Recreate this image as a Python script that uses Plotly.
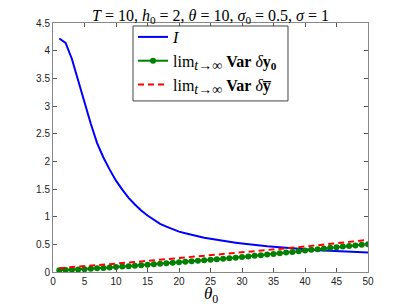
import plotly.graph_objects as go

theta0 = list(range(1, 51))

I_vals = [4.22, 4.14, 3.85, 3.45, 3.05, 2.68, 2.33, 2.07, 1.85, 1.65,
          1.49, 1.34, 1.22, 1.11, 1.02, 0.94, 0.87, 0.82, 0.77, 0.73,
          0.70, 0.67, 0.645, 0.62, 0.60, 0.58, 0.56, 0.545, 0.53, 0.515,
          0.50, 0.49, 0.475, 0.465, 0.455, 0.445, 0.435, 0.425, 0.415, 0.41,
          0.40, 0.395, 0.39, 0.385, 0.378, 0.372, 0.366, 0.361, 0.356, 0.352]

var_y0 = [0.03, 0.035, 0.04, 0.045, 0.05, 0.058, 0.066, 0.074, 0.082, 0.09,
          0.098, 0.106, 0.114, 0.122, 0.13, 0.139, 0.148, 0.157, 0.166, 0.175,
          0.184, 0.193, 0.202, 0.211, 0.22, 0.229, 0.239, 0.249, 0.259, 0.27,
          0.281, 0.292, 0.303, 0.315, 0.327, 0.339, 0.351, 0.363, 0.376, 0.389,
          0.401, 0.413, 0.425, 0.437, 0.449, 0.46, 0.471, 0.481, 0.491, 0.50]

var_ybar = [0.07, 0.078, 0.086, 0.093, 0.10, 0.11, 0.12, 0.13, 0.14, 0.15,
            0.16, 0.17, 0.18, 0.19, 0.20, 0.21, 0.22, 0.23, 0.24, 0.25,
            0.26, 0.27, 0.28, 0.29, 0.30, 0.31, 0.32, 0.33, 0.34, 0.35,
            0.362, 0.374, 0.386, 0.398, 0.41, 0.42, 0.43, 0.44, 0.45, 0.46,
            0.472, 0.484, 0.496, 0.508, 0.52, 0.532, 0.544, 0.556, 0.568, 0.58]

x_ticks = list(range(0, 51, 5))
y_ticks = [0, 0.5, 1, 1.5, 2, 2.5, 3, 3.5, 4, 4.5]

serif = "Liberation Serif, DejaVu Serif, serif"
sans = "Liberation Sans, Arial, sans-serif"

lim = "lim<sub><span style='font-size:14px'><i>t</i>→∞</span></sub>"

fig = go.Figure()
fig.add_trace(go.Scatter(
    x=theta0, y=I_vals, mode="lines",
    line=dict(color="#0000FF", width=2),
    name="<i>I</i>"))
fig.add_trace(go.Scatter(
    x=theta0, y=var_y0, mode="lines+markers",
    line=dict(color="#008000", width=2),
    marker=dict(color="#008000", size=6, symbol="circle"),
    name=lim + " <b>Var</b> <i>δ</i><b>y<sub>0</sub></b>"))
fig.add_trace(go.Scatter(
    x=theta0, y=var_ybar, mode="lines",
    line=dict(color="#FF0000", width=2, dash="6px,4px"),
    name=lim + " <b>Var</b> <i>δ</i><b>y̅</b>"))

fig.update_layout(
    width=399, height=298,
    margin=dict(l=45, r=39, t=15, b=34, autoexpand=False),
    paper_bgcolor="white", plot_bgcolor="white",
    title=dict(
        text="<i>T</i> = 10, <i>h</i><sub>0</sub> = 2, <i>θ</i> = 10, <i>σ</i><sub>0</sub> = 0.5, <i>σ</i> = 1",
        x=0.5, xanchor="center", xref="paper", yref="container", y=0.976, yanchor="middle",
        font=dict(family=serif, size=16, color="black")),
    showlegend=True,
    legend=dict(
        x=0.254, y=1.012, xanchor="left", yanchor="top",
        bgcolor="rgba(0,0,0,0)", borderwidth=0,
        font=dict(family=serif, size=16, color="black"),
        itemwidth=30, tracegroupgap=0),
    shapes=[dict(
        type="rect", xref="paper", yref="paper",
        x0=0.254, x1=0.746, y0=0.687, y1=0.988,
        line=dict(color="#444", width=1), fillcolor="white", layer="above")],
    xaxis=dict(
        range=[0, 50], tickmode="array", tickvals=x_ticks,
        ticks="inside", ticklen=4, tickcolor="#555",
        showline=True, linecolor="#888", linewidth=1, mirror="ticks",
        showgrid=False, zeroline=False, automargin=False,
        tickfont=dict(family=sans, size=10, color="#222")),
    yaxis=dict(
        range=[0, 4.5], tickmode="array", tickvals=y_ticks,
        ticks="inside", ticklen=4, tickcolor="#555",
        showline=True, linecolor="#888", linewidth=1, mirror="ticks",
        showgrid=False, zeroline=True, zerolinecolor="black", zerolinewidth=1.5,
        automargin=False,
        tickfont=dict(family=sans, size=10, color="#222")),
    annotations=[dict(
        text="<i>θ</i><sub>0</sub>", xref="paper", yref="paper",
        x=0.5, y=-0.092, xanchor="center", yanchor="middle", showarrow=False,
        font=dict(family=serif, size=17, color="black"))],
)

fig.write_html("out.html")
